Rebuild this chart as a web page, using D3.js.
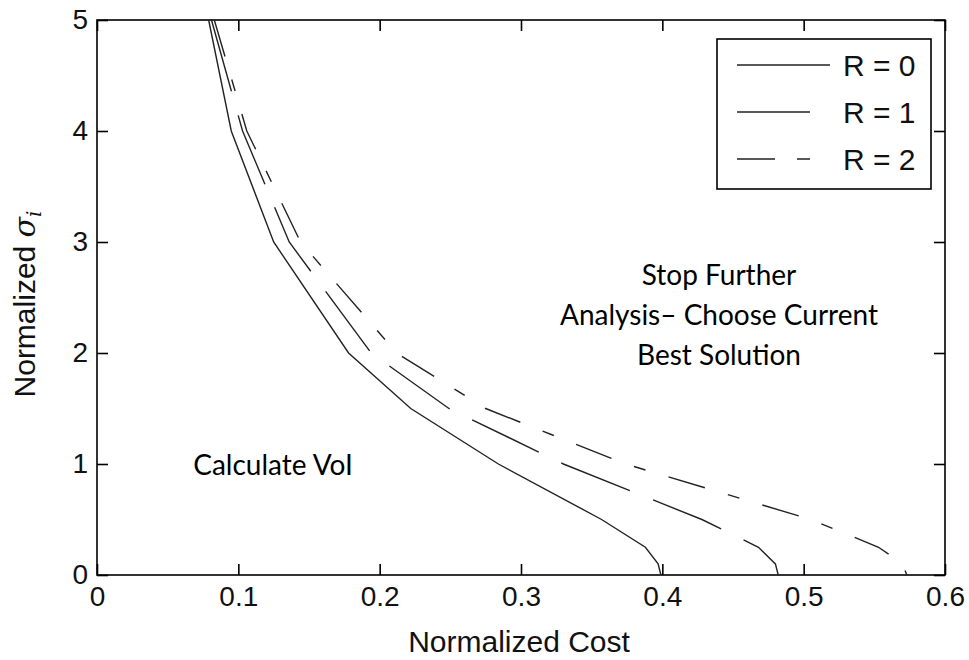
<!DOCTYPE html>
<html>
<head>
<meta charset="utf-8">
<script src="https://cdn.jsdelivr.net/npm/d3@7"></script>
<style>
  body { margin: 0; background: #fff; }
  svg { display: block; }
  .tick text { font-family: "Liberation Sans", Arial, sans-serif; font-size: 28px; fill: #111; }
  .note { font-family: Lato, "Open Sans", sans-serif; font-size: 28px; fill: #000; }
</style>
</head>
<body>
<svg width="969" height="660"></svg>
<script>
// sigma levels (y) shared by the three curves
var sigma = [5, 4, 3, 2, 1.5, 1, 0.5, 0.25, 0.1, 0];

// normalized cost (x) for each R
var costR0 = [0.079, 0.095, 0.125, 0.178, 0.222, 0.284, 0.357, 0.388, 0.397, 0.399];
var costR1 = [0.081, 0.103, 0.136, 0.194, 0.249, 0.330, 0.428, 0.468, 0.480, 0.482];
var costR2 = [0.083, 0.106, 0.144, 0.212, 0.275, 0.374, 0.505, 0.553, 0.570, 0.573];

var seriesNames = ['R = 0', 'R = 1', 'R = 2'];
var xTicks = [0, 0.1, 0.2, 0.3, 0.4, 0.5, 0.6];
var yTicks = [0, 1, 2, 3, 4, 5];

var dashes = [null, '74,25', '38,24,12,24'];
var legendLen = [93, 73, 73];

function drawChart() {
  var svg = d3.select('svg');
  var pLeft = 97, pRight = 945, pTop = 20, pBottom = 575;

  var x = d3.scaleLinear().domain([0, 0.6]).range([pLeft, pRight]);
  var y = d3.scaleLinear().domain([0, 5]).range([pBottom, pTop]);

  // frame
  svg.append('rect')
    .attr('x', pLeft).attr('y', pTop)
    .attr('width', pRight - pLeft).attr('height', pBottom - pTop)
    .attr('fill', 'none').attr('stroke', '#000').attr('stroke-width', 1.6);

  // axes with inward ticks (labels on bottom/left only)
  var fmtX = function(d) { return d === 0 ? '0' : d3.format('.1f')(d); };

  var gx = svg.append('g').attr('transform', 'translate(0,' + pBottom + ')')
    .call(d3.axisBottom(x).tickValues(xTicks).tickFormat(fmtX).tickSizeInner(-11).tickSizeOuter(0).tickPadding(11));
  var gy = svg.append('g').attr('transform', 'translate(' + pLeft + ',0)')
    .call(d3.axisLeft(y).tickValues(yTicks).tickFormat(d3.format('d')).tickSizeInner(-11).tickSizeOuter(0).tickPadding(9));
  var gxt = svg.append('g').attr('transform', 'translate(0,' + pTop + ')')
    .call(d3.axisTop(x).tickValues(xTicks).tickFormat('').tickSizeInner(-11).tickSizeOuter(0));
  var gyr = svg.append('g').attr('transform', 'translate(' + pRight + ',0)')
    .call(d3.axisRight(y).tickValues(yTicks).tickFormat('').tickSizeInner(-11).tickSizeOuter(0));

  [gx, gy, gxt, gyr].forEach(function(g) {
    g.select('.domain').remove();
    g.selectAll('.tick line').attr('stroke', '#000').attr('stroke-width', 1.6);
  });

  // curves
  var line = d3.line()
    .x(function(d) { return x(d[0]); })
    .y(function(d) { return y(d[1]); });

  [costR0, costR1, costR2].forEach(function(cost, i) {
    svg.append('path')
      .datum(cost.map(function(c, j) { return [c, sigma[j]]; }))
      .attr('d', line)
      .attr('fill', 'none')
      .attr('stroke', '#222')
      .attr('stroke-width', 1.4)
      .attr('stroke-dasharray', dashes[i]);
  });

  // axis labels
  svg.append('text')
    .attr('x', 519).attr('y', 652)
    .attr('text-anchor', 'middle')
    .style('font-family', '"Liberation Sans", Arial, sans-serif')
    .style('font-size', '30px').attr('fill', '#111')
    .text('Normalized Cost');

  var ylab = svg.append('text')
    .attr('transform', 'translate(35,304) rotate(-90)')
    .attr('text-anchor', 'middle')
    .style('font-family', '"Liberation Sans", Arial, sans-serif')
    .style('font-size', '30px').attr('fill', '#111');
  ylab.append('tspan').text('Normalized ');
  ylab.append('tspan').style('font-family', '"DejaVu Serif", serif').style('font-style', 'italic').text('σ');
  ylab.append('tspan').style('font-family', '"DejaVu Serif", serif').style('font-style', 'italic')
    .style('font-size', '20px').attr('dy', 6).text('i');

  // legend
  var lg = svg.append('g');
  lg.append('rect')
    .attr('x', 717).attr('y', 39).attr('width', 214).attr('height', 150)
    .attr('fill', '#fff').attr('stroke', '#000').attr('stroke-width', 1.6);
  seriesNames.forEach(function(name, i) {
    var ly = 65 + i * 47;
    lg.append('line')
      .attr('x1', 737).attr('x2', 737 + legendLen[i])
      .attr('y1', ly).attr('y2', ly)
      .attr('stroke', '#222').attr('stroke-width', 1.4)
      .attr('stroke-dasharray', i === 2 ? '38,22,13,30' : null);
    lg.append('text')
      .attr('x', 843).attr('y', ly + 11)
      .style('font-family', '"Liberation Sans", Arial, sans-serif')
      .style('font-size', '30px').attr('fill', '#111')
      .text(name);
  });

  // region notes
  svg.append('text').attr('class', 'note')
    .attr('x', 273).attr('y', 475).attr('text-anchor', 'middle')
    .text('Calculate VoI');

  var stopLines = ['Stop Further', 'Analysis– Choose Current', 'Best Solution'];
  stopLines.forEach(function(t, i) {
    svg.append('text').attr('class', 'note')
      .attr('x', 719).attr('y', 285 + i * 40).attr('text-anchor', 'middle')
      .text(t);
  });
}

drawChart();
</script>
</body>
</html>
